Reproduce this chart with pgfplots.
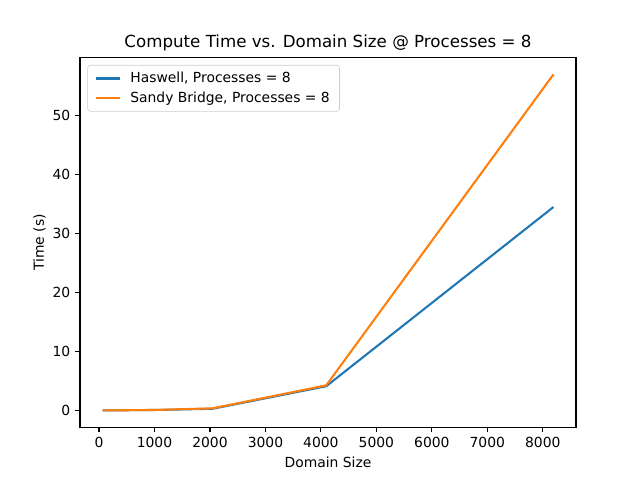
\documentclass[border=0pt]{standalone}
\usepackage{pgfplots}
\pgfplotsset{compat=1.18}
\usepackage{fontspec}
\setmainfont{DejaVu Sans}
\definecolor{tabblue}{HTML}{1F77B4}
\definecolor{taborange}{HTML}{FF7F0E}
\begin{document}
\begin{tikzpicture}[x=1pt,y=1pt]
\path (0,0) rectangle (460.8,345.6);
\begin{axis}[
  at={(57.6pt,38.016pt)}, anchor=south west,
  scale only axis, width=357.12pt, height=266.11pt,
  xmin=-342.4, xmax=8598.4, ymin=-2.85, ymax=59.85,
  xtick={0,1000,...,8000}, ytick={0,10,...,50},
  tick align=outside, tick pos=left,
  major tick length=3.5pt,
  tick style={black, line width=0.8pt},
  axis line style={line width=0.8pt},
  /pgf/number format/assume math mode=true,
  /pgf/number format/1000 sep={},
  ticklabel style={font=\fontsize{10}{12}\selectfont},
  xlabel={Domain Size}, ylabel={Time (s)},
  label style={font=\fontsize{10}{12}\selectfont},
  ylabel style={yshift=-2pt},
  title={Compute Time vs. Domain Size @ Processes = 8},
  title style={font=\fontsize{12}{14}\selectfont, yshift=-4.5pt},
  legend style={font=\fontsize{10}{12}\selectfont, draw=black!20, rounded corners=2pt, at={(0.015,0.98)}, anchor=north west, inner xsep=5pt, inner ysep=3pt, row sep=1pt},
  legend cell align=left,
  legend image code/.code={\draw[#1] (0cm,0cm) -- (0.62cm,0cm); \path (0.78cm,0cm);},
]
\addplot[tabblue, line width=1.5pt] coordinates {
(64,0.001) (128,0.003) (256,0.01) (512,0.03) (1024,0.07) (2048,0.28) (4096,4.1) (8192,34.5)};
\addlegendentry{Haswell, Processes = 8}
\addplot[taborange, line width=1.5pt] coordinates {
(64,0.001) (128,0.003) (256,0.01) (512,0.03) (1024,0.08) (2048,0.35) (4096,4.25) (8192,57.0)};
\addlegendentry{Sandy Bridge, Processes = 8}
\end{axis}
\end{tikzpicture}
\end{document}
